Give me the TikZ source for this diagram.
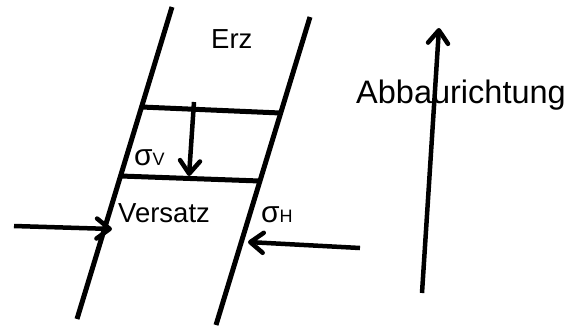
\documentclass[tikz,border=0pt]{standalone}
\usepackage{fontspec}
\setmainfont{Liberation Sans}
\usetikzlibrary{arrows.meta}
\begin{document}
\begin{tikzpicture}[x=1pt,y=-1pt,
  wall/.style={line width=5pt},
  force/.style={line width=4.5pt,-{Straight Barb[length=13pt,width=20pt,round]}},
  lbl/.style={inner sep=0pt,anchor=base west,font=\fontsize{27.5}{32}\selectfont},
  sig/.style={inner sep=0pt,anchor=base west,font=\fontsize{30}{34}\selectfont},
  big/.style={inner sep=0pt,anchor=base west,font=\fontsize{32.5}{38}\selectfont}]
\useasboundingbox (0,0) rectangle (565,327);
% side walls
\coordinate (LT) at (172,7);
\coordinate (LB) at (77,319);
\coordinate (RT) at (310,17);
\coordinate (RB) at (216,325);
\draw[wall] (LT) -- (LB);
\draw[wall] (RT) -- (RB);
% cross lines
\coordinate (U1) at (141.5,107);
\coordinate (U2) at (280.5,113);
\coordinate (D1) at (120.5,176);
\coordinate (D2) at (260,181);
\draw[wall] (U1) -- (U2);
\draw[wall] (D1) -- (D2);
% forces
\coordinate (Vs) at (194,102);
\coordinate (Ve) at (189,176);
\draw[force] (Vs) -- (Ve);
\coordinate (Hls) at (14,226);
\coordinate (Hle) at (112,229);
\draw[force] (Hls) -- (Hle);
\coordinate (Hrs) at (360,248);
\coordinate (Hre) at (248,242);
\draw[force] (Hrs) -- (Hre);
\coordinate (As) at (422,293);
\coordinate (Ae) at (439,28);
\draw[force] (As) -- (Ae);
% labels
\node[lbl] (erz) at (211,48) {Erz};
\node[sig] (sv) at (134,165) {σ\fontsize{18}{21}\selectfont V};
\node[sig] (sh) at (261,222) {σ\fontsize{18}{21}\selectfont H};
\node[lbl] (vers) at (118,222) {Versatz};
\node[big] (abb) at (356,103) {Abbaurichtung};
\end{tikzpicture}
\end{document}
